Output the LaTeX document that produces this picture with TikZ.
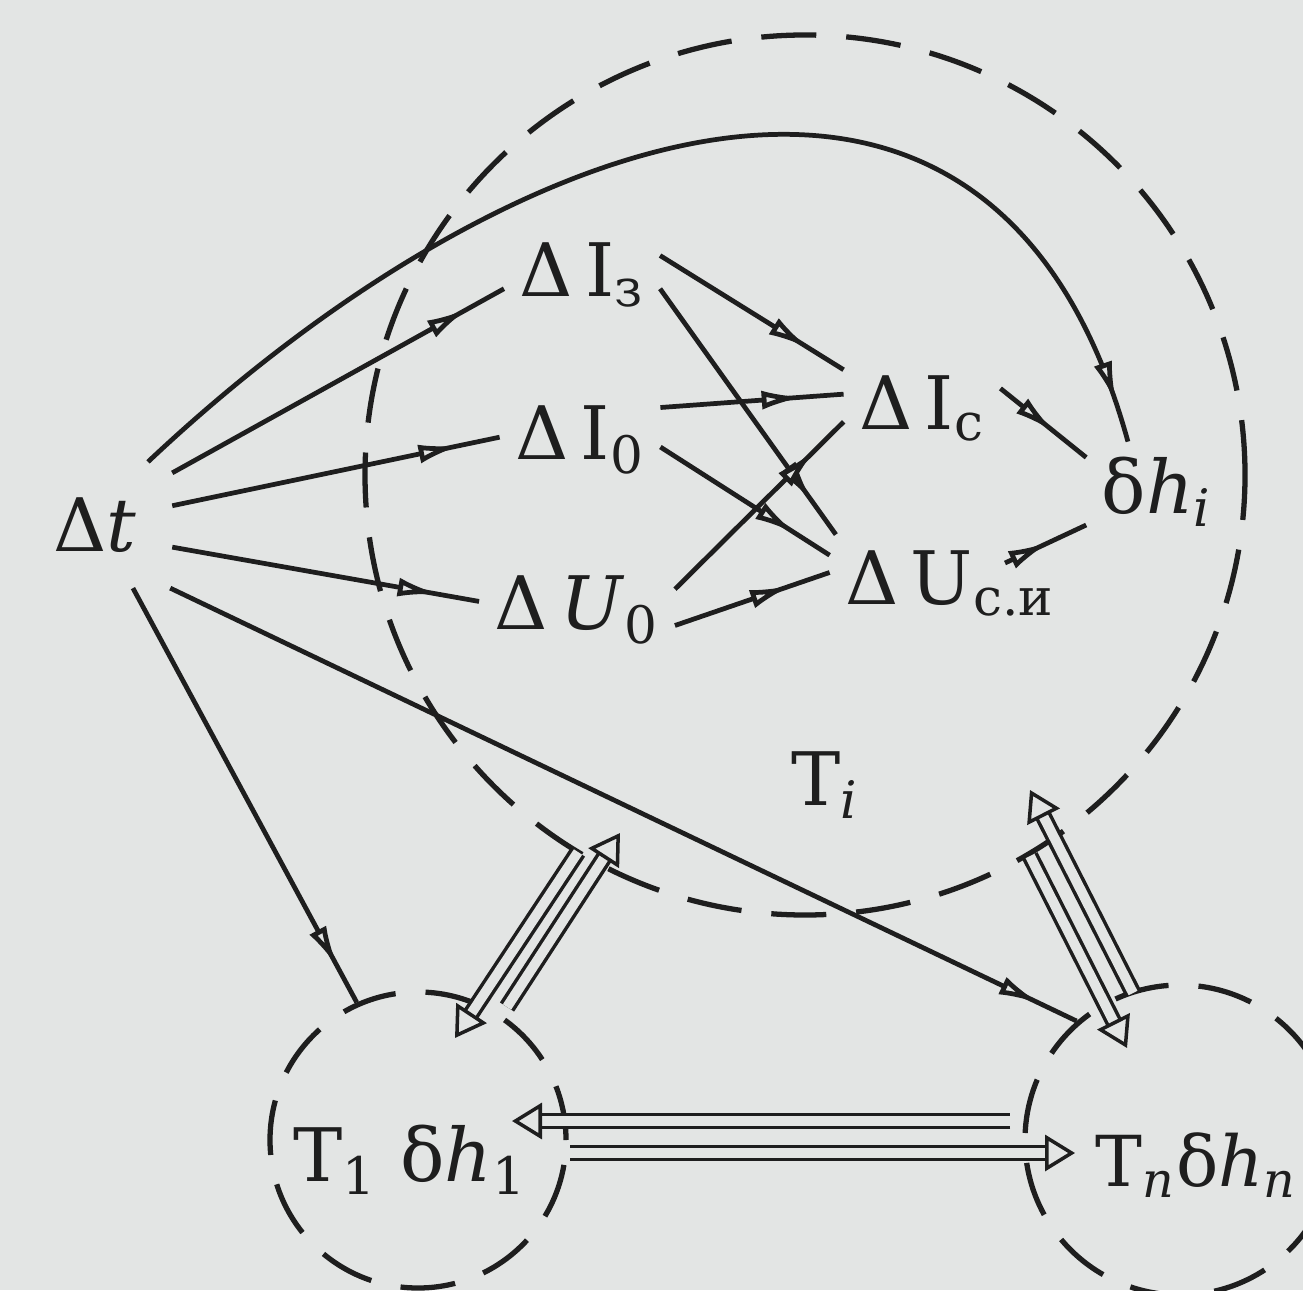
\documentclass[tikz,border=0pt]{standalone}
\usepackage{fontspec}
\setmainfont{DejaVu Serif}
\usetikzlibrary{arrows.meta,decorations.markings}
\definecolor{paper}{RGB}{227,229,228}
\definecolor{ink}{RGB}{30,30,30}
\tikzset{
  lbl/.style={inner sep=1.5mm, font=\fontsize{21}{25}\selectfont, text=ink},
  link/.style={draw=ink, line width=1.35pt, postaction={decorate},
    decoration={markings, mark=at position -4mm with {\arrow{Latex[length=4.2mm,width=1.9mm,fill=paper]}}}},
  zone/.style={circle, draw=ink, line width=1.5pt, dash pattern=on 5.5mm off 3mm},
  hollow/.style={draw=ink, line width=1pt, double=paper, double distance=2.8pt,
    -{Triangle[open,length=3mm,width=3.6mm]}}
}
\begin{document}
\begin{tikzpicture}
\fill[paper] (0,0) rectangle (13.03,12.9);
\useasboundingbox (0,0) rectangle (13.03,12.9);

% zones
\node[zone, minimum size=8.8cm] (bigT) at (8.05,8.15) {};
\node[zone, minimum size=2.96cm] (c1) at (4.18,1.50) {};
\node[zone, minimum size=3.1cm] (cn) at (11.80,1.50) {};

% quantities
\node[lbl, inner sep=3.5mm] (dt) at (0.95,7.65) {Δ\textit{t}};
\node[lbl] (dIz) at (5.82,10.15) {Δ\,I\textsubscript{з}};
\node[lbl] (dIo) at (5.80,8.50) {Δ\,I\textsubscript{0}};
\node[lbl] (dU0) at (5.77,6.80) {Δ\,\textit{U}\textsubscript{0}};
\node[lbl] (dIc) at (9.22,8.82) {Δ\,I\textsubscript{c}};
\node[lbl] (dUci) at (9.50,7.07) {Δ\,U\textsubscript{с.и}};
\node[lbl] (dhi) at (11.57,7.98) {δ\textit{h}\textsubscript{\textit{i}}};
\node[lbl] (Ti) at (8.25,5.05) {T\textsubscript{\textit{i}}};
\node[lbl] (t1) at (4.10,1.30) {T\textsubscript{1}~δ\textit{h}\textsubscript{1}};
\node[lbl, anchor=west, font=\fontsize{20}{24}\selectfont] (tn) at (10.80,1.25) {T\textsubscript{\textit{n}}δ\textit{h}\textsubscript{\textit{n}}};

% from delta t
\draw[link] (dt.34) -- (dIz.190);
\draw[link] (dt.14) -- (dIo.178);
\draw[link] (dt.-16) -- (dU0.175);
\draw[link] (dt.-59) -- (c1.114);
\draw[link] (dt.-40) -- (cn.131);
\draw[link] (dt.50) .. controls (5.0,11.6) and (9.9,13.5) .. (dhi.120);

% inside the zone
\draw[link] (dIz.14) -- (dIc.154);
\draw[link] (dIz.-10) -- (dUci.157);
\draw[link] (dIo.22) -- (dIc.170);
\draw[link] (dIo.-5) -- (dUci.167);
\draw[link] (dU0.12) -- (dIc.190);
\draw[link] (dU0.-9) -- (dUci.175);
\draw[link] (dIc.14) -- (dhi.154);
\draw[link] ([shift={(0.55,0.2)}]dUci.center) -- (dhi.205);

% exchange between zones
\coordinate (up1a) at (5.07,2.83);
\coordinate (up1b) at (6.20,4.57);
\coordinate (dn1a) at (5.78,4.38);
\coordinate (dn1b) at (4.55,2.52);
\coordinate (up2a) at (11.33,2.97);
\coordinate (up2b) at (10.30,5.00);
\coordinate (dn2a) at (10.30,4.34);
\coordinate (dn2b) at (11.27,2.42);
\coordinate (lfa) at (10.10,1.69);
\coordinate (lfb) at (5.12,1.69);
\coordinate (rta) at (5.70,1.37);
\coordinate (rtb) at (10.75,1.37);

\draw[hollow] (up1a) -- (up1b);
\draw[hollow] (dn1a) -- (dn1b);
\draw[hollow] (up2a) -- (up2b);
\draw[hollow] (dn2a) -- (dn2b);
\draw[hollow] (lfa) -- (lfb);
\draw[hollow] (rta) -- (rtb);
\end{tikzpicture}
\end{document}
